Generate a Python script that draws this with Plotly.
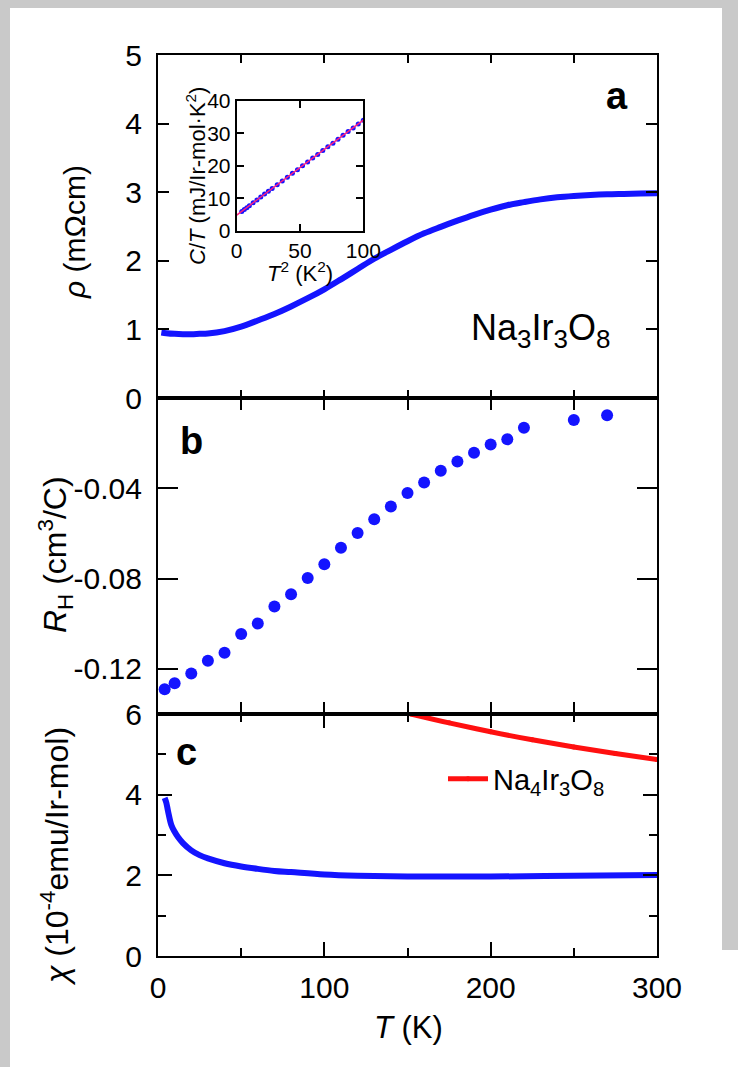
import plotly.graph_objects as go

# ---------------- data ----------------
# panel a: resistivity
rho_T = [2, 5, 10, 15, 20, 25, 30, 40, 50, 60, 70, 80, 90, 100, 110, 120, 130, 140, 150,
         160, 170, 180, 190, 200, 210, 220, 230, 240, 250, 260, 270, 280, 290, 300]
rho_val = [0.955, 0.945, 0.935, 0.93, 0.93, 0.935, 0.94, 0.975, 1.04, 1.13, 1.225, 1.335,
           1.455, 1.585, 1.73, 1.88, 2.03, 2.16, 2.285, 2.40, 2.495, 2.585, 2.67, 2.745,
           2.81, 2.855, 2.895, 2.925, 2.945, 2.96, 2.97, 2.975, 2.98, 2.985]

# inset: C/T vs T^2
inset_T2 = [4, 6, 8, 10, 13, 16, 19, 22, 25, 28, 32, 36, 40, 44, 48, 52, 56, 60, 64, 68,
            72, 76, 80, 84, 88, 92, 96, 100]
inset_CT = [5.9, 6.5, 7.1, 7.7, 8.6, 9.5, 10.4, 11.3, 12.2, 13.0, 14.2, 15.3, 16.5, 17.7,
            18.8, 20.0, 21.2, 22.4, 23.5, 24.7, 25.9, 27.0, 28.2, 29.4, 30.6, 31.7, 32.9, 34.1]
fit_T2 = [0, 100]
fit_CT = [4.8, 34.1]

# panel b: Hall coefficient
rh_T = [4, 10, 20, 30, 40, 50, 60, 70, 80, 90, 100, 110, 120, 130, 140, 150, 160, 170,
        180, 190, 200, 210, 220, 250, 270]
rh_val = [-0.129, -0.1264, -0.1221, -0.1164, -0.1129, -0.1046, -0.0999, -0.0924, -0.0869,
          -0.0797, -0.0737, -0.0663, -0.0598, -0.0537, -0.0481, -0.0421, -0.0374, -0.0322,
          -0.0281, -0.0243, -0.0206, -0.0183, -0.0132, -0.0097, -0.0076]

# panel c: susceptibility
chi_T = [4, 5, 6, 8, 10, 12, 15, 20, 25, 30, 40, 50, 60, 70, 80, 100, 120, 150, 180, 200,
         250, 300]
chi_val = [3.92, 3.8, 3.6, 3.25, 3.08, 2.95, 2.8, 2.62, 2.5, 2.42, 2.3, 2.22, 2.16, 2.11,
           2.08, 2.02, 1.99, 1.97, 1.97, 1.97, 1.99, 2.01]
chi4_T = [152, 175, 200, 225, 250, 275, 300]
chi4_val = [6.0, 5.78, 5.56, 5.36, 5.18, 5.02, 4.87]

x_ticks_major = [0, 100, 200, 300]
x_ticks_all = [0, 50, 100, 150, 200, 250, 300]
a_ticks = [0, 1, 2, 3, 4, 5]
b_ticks = [-0.04, -0.08, -0.12]
b_labels = ["-0.04", "-0.08", "-0.12"]
c_ticks = [0, 2, 4, 6]
inset_xticks = [0, 50, 100]
inset_yticks = [0, 10, 20, 30, 40]

# ---------------- style ----------------
FONT = "Liberation Sans, Arial, sans-serif"
BLUE = "#1414ff"
RED = "#ff1010"
W, H = 738, 1067
L, R, T_, B = 158, 81, 55, 111
PW, PH = W - L - R, H - T_ - B


def px(X):
    return (X - L) / PW


def py(Y):
    return (H - B - Y) / PH


yc_top = py(714)
yb_top = py(398)

fig = go.Figure()

fig.add_trace(go.Scatter(x=rho_T, y=rho_val, mode="lines", line=dict(color=BLUE, width=6, shape="spline"),
                         xaxis="x3", yaxis="y3", showlegend=False))
fig.add_trace(go.Scatter(x=inset_T2, y=inset_CT, mode="markers", marker=dict(color=BLUE, size=5),
                         xaxis="x4", yaxis="y4", showlegend=False))
fig.add_trace(go.Scatter(x=fit_T2, y=fit_CT, mode="lines", line=dict(color="#ff2080", width=1.5),
                         xaxis="x4", yaxis="y4", showlegend=False))
fig.add_trace(go.Scatter(x=rh_T, y=rh_val, mode="markers", marker=dict(color=BLUE, size=12),
                         xaxis="x2", yaxis="y2", showlegend=False))
fig.add_trace(go.Scatter(x=chi_T, y=chi_val, mode="lines", line=dict(color=BLUE, width=6, shape="spline"),
                         xaxis="x", yaxis="y", showlegend=False))
fig.add_trace(go.Scatter(x=chi4_T, y=chi4_val, mode="lines+markers", name="Na<sub>4</sub>Ir<sub>3</sub>O<sub>8</sub>",
                         line=dict(color=RED, width=5, shape="spline"), marker=dict(color=RED, size=5),
                         xaxis="x", yaxis="y", showlegend=True))

axis_common = dict(showline=True, linecolor="black", linewidth=2, mirror="allticks",
                   ticks="inside", tickcolor="black", tickwidth=2, showgrid=False, zeroline=False,
                   tickfont=dict(family=FONT, size=30, color="black"))

fig.update_layout(
    width=W, height=H,
    margin=dict(l=L, r=R, t=T_, b=B),
    paper_bgcolor="white", plot_bgcolor="white",
    font=dict(family=FONT, color="black"),
    xaxis=dict(axis_common, domain=[0, 1], anchor="y", range=[0, 300], tickvals=x_ticks_major,
               ticklen=14, ticklabelstandoff=4,
               minor=dict(tickvals=x_ticks_all, ticklen=8, tickwidth=2, tickcolor="black", ticks="inside")),
    yaxis=dict(axis_common, domain=[0, yc_top], anchor="x", range=[0, 6], tickvals=c_ticks, ticklen=14,
               ticklabelstandoff=8,
               minor=dict(dtick=1, ticklen=8, tickwidth=2, tickcolor="black", ticks="inside")),
    xaxis2=dict(axis_common, domain=[0, 1], anchor="y2", range=[0, 300], matches="x", tickvals=x_ticks_all,
                ticklen=12, showticklabels=False),
    yaxis2=dict(axis_common, domain=[yc_top, yb_top], anchor="x2", range=[-0.14, 0], tickvals=b_ticks,
                ticktext=b_labels, ticklen=20, ticklabelstandoff=8),
    xaxis3=dict(axis_common, domain=[0, 1], anchor="y3", range=[0, 300], matches="x", tickvals=x_ticks_all,
                ticklen=8, showticklabels=False),
    yaxis3=dict(axis_common, domain=[yb_top, 1], anchor="x3", range=[0, 5], tickvals=a_ticks, ticklen=11,
                ticklabelstandoff=8),
    xaxis4=dict(axis_common, domain=[px(236.7), px(363.3)], anchor="y4", range=[0, 100], tickvals=inset_xticks,
                ticklen=7, tickfont=dict(family=FONT, size=21, color="black"), ticklabelstandoff=0),
    yaxis4=dict(axis_common, domain=[py(230.7), py(101)], anchor="x4", range=[0, 40], tickvals=inset_yticks,
                ticklen=7, tickfont=dict(family=FONT, size=21, color="black"), ticklabelstandoff=0),
    legend=dict(x=px(443), y=py(779), xanchor="left", yanchor="middle", bgcolor="rgba(0,0,0,0)",
                font=dict(family=FONT, size=29, color="black"), itemwidth=40),
)

SUB = "<sub><span style='font-size:26px'>{}</span></sub>"
ann = [
    dict(text="<i>ρ</i> (mΩcm)", x=px(74), y=py(232), textangle=-90, size=30),
    dict(text="<i>R</i><sub>H</sub> (cm<sup>3</sup>/C)", x=px(55), y=py(555), textangle=-90, size=32),
    dict(text="<i>χ</i> (10<sup>-4</sup>emu/Ir-mol)", x=px(55), y=py(857), textangle=-90, size=32),
    dict(text="<i>T</i> (K)", x=px(408), y=py(1027), textangle=0, size=31),
    dict(text="<i>C</i>/<i>T</i> (mJ/Ir-mol·K<sup>2</sup>)", x=px(196), y=py(176), textangle=-90, size=22),
    dict(text="<i>T</i><sup>2</sup> (K<sup>2</sup>)", x=px(300), y=py(272), textangle=0, size=22),
    dict(text="<b>a</b>", x=px(617), y=py(96), textangle=0, size=38),
    dict(text="<b>b</b>", x=px(191), y=py(441), textangle=0, size=38),
    dict(text="<b>c</b>", x=px(186), y=py(752), textangle=0, size=38),
    dict(text="Na" + SUB.format(3) + "Ir" + SUB.format(3) + "O" + SUB.format(8),
         x=px(540), y=py(330), textangle=0, size=36),
]
for a in ann:
    fig.add_annotation(text=a["text"], x=a["x"], y=a["y"], xref="paper", yref="paper",
                       xanchor="center", yanchor="middle", showarrow=False, textangle=a["textangle"],
                       font=dict(family=FONT, size=a["size"], color="black"))

# grey page border strips
for x0, x1, y0, y1 in [(0, 10, 0, H), (0, W, 0, 8), (722, W, 0, 950)]:
    fig.add_shape(type="rect", xref="paper", yref="paper", x0=px(x0), x1=px(x1), y0=py(y1), y1=py(y0),
                  fillcolor="#c9c9c9", line=dict(width=0), layer="below")

fig.write_html("out.html", config={"displayModeBar": False},
               post_script="document.body.style.margin='0';document.body.style.overflow='hidden';")
